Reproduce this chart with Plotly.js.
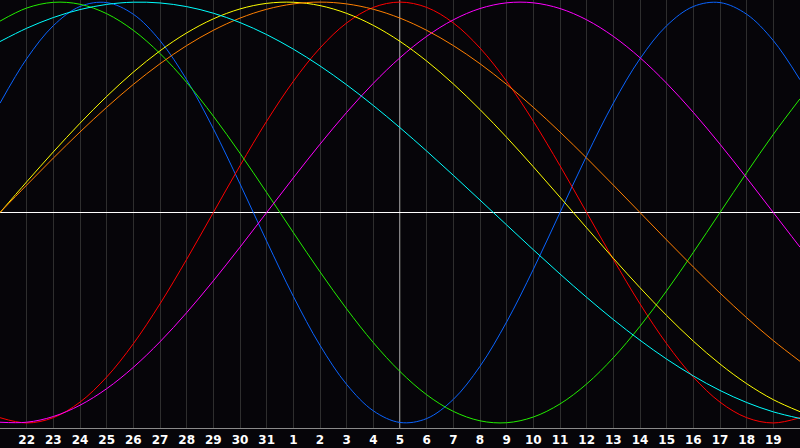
<!DOCTYPE html>
<html>
<head>
<meta charset="utf-8">
<script src="https://cdn.plot.ly/plotly-3.0.1.min.js"></script>
<style>
  html, body { margin: 0; padding: 0; background: #060509; }
  #chart { width: 800px; height: 448px; }
</style>
</head>
<body>
<div id="chart"></div>
<script>
// days shown, from the 21st to the 20th of the next month
var days = ['21', '22', '23', '24', '25', '26', '27', '28', '29', '30', '31',
            '1', '2', '3', '4', '5', '6', '7', '8', '9', '10',
            '11', '12', '13', '14', '15', '16', '17', '18', '19', '20'];
var today = '5';

// cycle values, one per day
var physical = [0.5196, 0.7308, 0.8879, 0.9791, 0.9977, 0.9423, 0.8170, 0.6311, 0.3984, 0.1362,
                -0.1362, -0.3984, -0.6311, -0.8170, -0.9423, -0.9977, -0.9791, -0.8879, -0.7308, -0.5196,
                -0.2698, 0, 0.2698, 0.5196, 0.7308, 0.8879, 0.9791, 0.9977, 0.9423, 0.8170, 0.6311];
var emotional = [-0.9749, -1, -0.9749, -0.9010, -0.7818, -0.6235, -0.4339, -0.2225, 0, 0.2225,
                 0.4339, 0.6235, 0.7818, 0.9010, 0.9749, 1, 0.9749, 0.9010, 0.7818, 0.6235,
                 0.4339, 0.2225, 0, -0.2225, -0.4339, -0.6235, -0.7818, -0.9010, -0.9749, -1, -0.9749];
var intellectual = [0.9096, 0.9718, 0.9989, 0.9898, 0.9450, 0.8660, 0.7557, 0.6182, 0.4582, 0.2817,
                    0.0951, -0.0951, -0.2817, -0.4582, -0.6182, -0.7557, -0.8660, -0.9450, -0.9898, -0.9989,
                    -0.9718, -0.9096, -0.8146, -0.6901, -0.5406, -0.3717, -0.1893, 0, 0.1893, 0.3717, 0.5406];
var intuitive = [-0.9966, -0.9966, -0.9694, -0.9158, -0.8372, -0.7357, -0.6142, -0.4759, -0.3247, -0.1646,
                 0, 0.1646, 0.3247, 0.4759, 0.6142, 0.7357, 0.8372, 0.9158, 0.9694, 0.9966,
                 0.9966, 0.9694, 0.9158, 0.8372, 0.7357, 0.6142, 0.4759, 0.3247, 0.1646, 0, -0.1646];
var aesthetic = [0, 0.1456, 0.2881, 0.4244, 0.5517, 0.6673, 0.7686, 0.8536, 0.9203, 0.9675,
                 0.9940, 0.9993, 0.9834, 0.9464, 0.8894, 0.8133, 0.7199, 0.6112, 0.4894, 0.3573,
                 0.2174, 0.0730, -0.0730, -0.2174, -0.3573, -0.4894, -0.6112, -0.7199, -0.8133, -0.8894, -0.9464];
var awareness = [0, 0.1305, 0.2588, 0.3827, 0.5, 0.6088, 0.7071, 0.7934, 0.8660, 0.9239,
                 0.9659, 0.9914, 1, 0.9914, 0.9659, 0.9239, 0.8660, 0.7934, 0.7071, 0.6088,
                 0.5, 0.3827, 0.2588, 0.1305, 0, -0.1305, -0.2588, -0.3827, -0.5, -0.6088, -0.7071];
var spiritual = [0.8125, 0.8757, 0.9267, 0.9646, 0.9890, 0.9996, 0.9960, 0.9786, 0.9473, 0.9028,
                 0.8456, 0.7765, 0.6966, 0.6068, 0.5086, 0.4031, 0.2921, 0.1769, 0.0592, -0.0592,
                 -0.1769, -0.2921, -0.4031, -0.5086, -0.6068, -0.6966, -0.7765, -0.8456, -0.9028, -0.9473, -0.9786];

var series = [
  {name: 'Physical', y: physical, color: '#0a64ff'},
  {name: 'Emotional', y: emotional, color: '#ff0000'},
  {name: 'Intellectual', y: intellectual, color: '#22ee00'},
  {name: 'Intuitive', y: intuitive, color: '#ff00ff'},
  {name: 'Aesthetic', y: aesthetic, color: '#ffff00'},
  {name: 'Awareness', y: awareness, color: '#ff7f00'},
  {name: 'Spiritual', y: spiritual, color: '#00ffff'}
];

var traces = series.map(function (s) {
  return {
    x: days,
    y: s.y,
    name: s.name,
    type: 'scatter',
    mode: 'lines',
    line: {color: s.color, width: 1, shape: 'spline'},
    hoverinfo: 'x+y+name'
  };
});

// on a category axis a shape takes the category's index
var todayIdx = days.indexOf(today);

var layout = {
  width: 800,
  height: 448,
  margin: {l: 0, r: 0, t: 0, b: 20, pad: 0},
  paper_bgcolor: '#060509',
  plot_bgcolor: '#060509',
  showlegend: false,
  hovermode: 'closest',
  xaxis: {
    type: 'category',
    range: [0, days.length - 1],
    tickmode: 'array',
    tickvals: days.slice(1, days.length - 1),
    ticktext: days.slice(1, days.length - 1),
    showgrid: true,
    gridcolor: '#2e2e2e',
    gridwidth: 1,
    showline: true,
    linecolor: '#8a8a8a',
    linewidth: 1,
    mirror: true,
    ticks: '',
    ticklabelstandoff: 1,
    tickfont: {family: 'DejaVu Sans', size: 12, color: '#ffffff', weight: 'bold'},
    zeroline: false,
    fixedrange: true
  },
  yaxis: {
    range: [-1.024, 1.01],
    showgrid: false,
    showticklabels: false,
    ticks: '',
    showline: true,
    linecolor: '#8a8a8a',
    linewidth: 1,
    zeroline: true,
    zerolinecolor: '#ffffff',
    zerolinewidth: 1,
    fixedrange: true
  },
  shapes: [{
    type: 'line',
    xref: 'x', yref: 'paper',
    x0: todayIdx, x1: todayIdx, y0: 0, y1: 1,
    line: {color: '#ffffff', width: 1},
    layer: 'below'
  }]
};

Plotly.newPlot('chart', traces, layout, {displaylogo: false, displayModeBar: false, staticPlot: true});
</script>
</body>
</html>
